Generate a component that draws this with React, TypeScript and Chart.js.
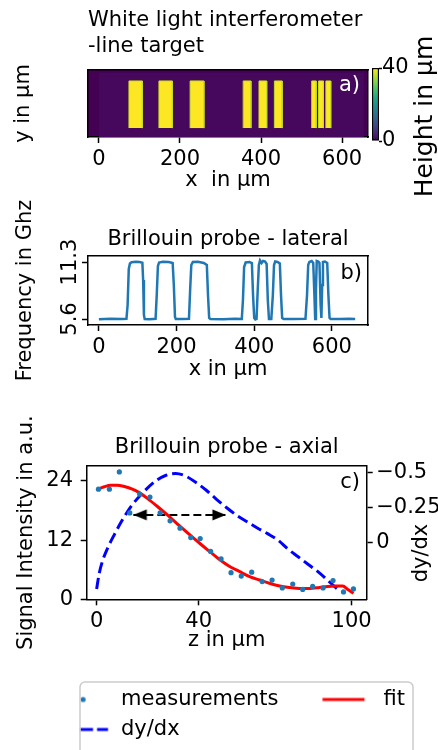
import React, { useEffect, useRef } from 'react';
import { Chart, registerables } from 'chart.js';

Chart.register(...registerables);
Chart.defaults.font.family = '"DejaVu Sans", sans-serif';
Chart.defaults.font.size = 21;
Chart.defaults.color = '#000';

// ---------------- a) white light interferometer – line target ----------------
const mapXTicks = [0, 200, 400, 600];
const mapXMin = -27;
const mapXMax = 664;
const mapYMin = 0;
const mapYMax = 165;
const stripeStarts = [74, 148, 225, 356, 395, 433, 525, 542, 560];
const stripeEnds = [107, 181, 259, 375, 414, 452, 536, 554, 572];
const stripeBottom = 22;
const stripeTop = 138;
const substrateX = [0, 654];
const substrateTop = 158;
const heightTicks = [0, 40];
const heightMin = 0;
const heightMax = 40;
const viridis = ['#440154', '#482475', '#414487', '#355f8d', '#2a788e', '#21918c', '#22a884', '#44bf70', '#7ad151', '#bddf26', '#fde725'];

// ---------------- b) Brillouin probe – lateral ----------------
const latX = [0, 30, 60, 71, 74, 77, 80, 84, 95, 105, 112, 114, 116, 118, 130, 146, 149, 152, 155, 165, 180, 190, 193, 196, 198, 215, 232, 235, 238, 242, 255, 270, 278, 281, 284, 287, 320, 350, 368, 371, 374, 378, 388, 394, 397, 400, 403, 406, 409, 412, 415, 419, 423, 428, 432, 435, 438, 444, 448, 451, 454, 460, 466, 469, 472, 476, 500, 532, 536, 539, 542, 548, 552, 555, 557, 559, 561, 565, 568, 571, 573, 575, 577, 582, 588, 591, 594, 597, 620, 645, 660];
const latF = [5.58, 5.62, 5.6, 5.62, 7.0, 10.6, 11.15, 11.28, 11.32, 11.3, 11.22, 9.5, 6.0, 5.6, 5.58, 5.62, 8.0, 10.9, 11.25, 11.33, 11.3, 11.2, 9.0, 5.8, 5.6, 5.6, 5.62, 8.5, 11.0, 11.3, 11.32, 11.2, 11.0, 8.0, 5.7, 5.6, 5.58, 5.62, 5.6, 7.5, 10.8, 11.25, 11.3, 11.2, 8.0, 5.7, 5.55, 5.6, 8.5, 11.0, 11.45, 11.2, 11.4, 11.35, 11.1, 7.5, 5.6, 5.6, 8.0, 11.0, 11.35, 11.3, 11.15, 8.0, 5.7, 5.6, 5.6, 5.62, 8.0, 11.0, 11.3, 11.4, 11.2, 8.0, 5.6, 8.5, 11.4, 11.35, 11.2, 7.0, 5.7, 9.0, 11.3, 11.35, 11.2, 8.0, 5.7, 5.6, 5.6, 5.62, 5.6];
const latXTicks = [0, 200, 400, 600];
const latXMin = -28;
const latXMax = 693;
const latFTicks = [5.6, 11.3];
const latFMin = 5.0;
const latFMax = 11.9;

// ---------------- c) Brillouin probe – axial ----------------
const measZ = [0.7, 5.0, 8.9, 13.0, 16.9, 20.9, 24.9, 28.8, 32.7, 36.9, 40.6, 44.7, 48.8, 52.7, 56.7, 60.8, 64.9, 68.8, 72.8, 76.9, 80.8, 84.7, 88.8, 92.7, 96.8, 100.7];
const measI = [22.3, 22.3, 25.8, 17.5, 21.3, 20.7, 17.5, 15.9, 14.4, 12.5, 12.3, 9.7, 8.2, 5.4, 4.7, 5.5, 3.6, 3.9, 2.3, 3.1, 2.0, 2.6, 2.3, 3.8, 1.5, 2.1];
const fitZ = [0.4, 3, 5.5, 8, 10.5, 14, 17, 20, 23.6, 27.5, 31.4, 36, 40.5, 44.5, 48.3, 52, 56.1, 60, 63.9, 68, 71.8, 75.7, 79.6, 83.5, 87.4, 90.5, 93.5, 96.5, 98.5, 100.7];
const fitI = [22.3, 22.8, 23.1, 23.1, 22.9, 22.3, 21.5, 20.4, 18.9, 17.2, 15.4, 13.3, 11.3, 9.6, 8.0, 6.7, 5.6, 4.6, 3.9, 3.2, 2.7, 2.4, 2.2, 2.2, 2.4, 2.6, 2.7, 2.7, 2.0, 1.2];
const derivZ = [0, 1, 2.5, 4.5, 7, 10, 13.5, 18, 23, 27, 31, 35, 39, 43, 47, 51, 55, 59, 63, 67, 71, 75, 79, 83, 87, 91, 95.5];
const derivV = [0.33, 0.22, 0.12, 0.03, -0.06, -0.16, -0.26, -0.355, -0.44, -0.48, -0.495, -0.475, -0.43, -0.375, -0.31, -0.25, -0.195, -0.15, -0.105, -0.065, -0.02, 0.045, 0.1, 0.155, 0.21, 0.275, 0.35];
const arrowZ = [14.4, 50.7];
const arrowI = [17.1, 17.1];
const axZTicks = [0, 40, 100];
const axZMin = -3.9;
const axZMax = 105.9;
const axITicks = [0, 12, 24];
const axIMin = 0;
const axIMax = 27;
const derivTicks = [-0.5, -0.25, 0];
const derivMin = -0.548;
const derivMax = 0.404;

// ---------------- helpers ----------------
const fmtMinus = (v: number) => (v < 0 ? '\u2212' + String(Math.abs(v)) : String(v));

const extraText = {
  id: 'extraText',
  afterDraw(chart: any, _a: any, opts: any) {
    const { ctx, chartArea: ca } = chart;
    (opts.items || []).forEach((t: any) => {
      const ax = t.ax === 'right' ? ca.right : ca.left;
      const ay = t.ay === 'bottom' ? ca.bottom : t.ay === 'middle' ? (ca.top + ca.bottom) / 2 : ca.top;
      ctx.save();
      ctx.font = `${t.size || 21}px "DejaVu Sans"`;
      ctx.fillStyle = t.color || '#000';
      ctx.textAlign = t.align || 'left';
      ctx.textBaseline = t.baseline || 'alphabetic';
      ctx.translate(ax + (t.dx || 0), ay + (t.dy || 0));
      if (t.rotate) ctx.rotate(t.rotate);
      ctx.fillText(t.text, 0, 0);
      ctx.restore();
    });
  },
};

const areaBg = {
  id: 'areaBg',
  beforeDraw(chart: any, _a: any, opts: any) {
    if (!opts.color) return;
    const { ctx, chartArea: ca } = chart;
    ctx.save();
    ctx.fillStyle = opts.color;
    ctx.fillRect(ca.left, ca.top, ca.width, ca.height);
    ctx.restore();
  },
};

const legendFrame = {
  id: 'legendFrame',
  afterDraw(chart: any, _a: any, opts: any) {
    const lg = chart.legend;
    if (!lg || !opts.width) return;
    const { ctx } = chart;
    const x = lg.left + opts.dx;
    const y = lg.top + opts.dy;
    const w = opts.width;
    const h = opts.height;
    const r = 5;
    ctx.save();
    ctx.strokeStyle = '#cccccc';
    ctx.lineWidth = 1.5;
    ctx.beginPath();
    ctx.moveTo(x + r, y);
    ctx.lineTo(x + w - r, y);
    ctx.arcTo(x + w, y, x + w, y + r, r);
    ctx.lineTo(x + w, y + h);
    ctx.moveTo(x, y + h);
    ctx.lineTo(x, y + r);
    ctx.arcTo(x, y, x + r, y, r);
    ctx.stroke();
    ctx.restore();
  },
};

const spine = (position: string, size: number) => ({
  type: 'linear',
  position,
  display: true,
  z: 1,
  ticks: { display: false },
  grid: { display: false },
  border: { display: true, color: '#000', width: 1.5 },
  afterFit: (s: any) => {
    if (position === 'top' || position === 'bottom') s.height = size;
    else s.width = size;
  },
});

const tickGrid = { display: true, drawOnChartArea: false, drawTicks: true, tickLength: 6, color: '#000', tickWidth: 1.5 };
const setTicks = (vals: number[]) => (s: any) => {
  s.ticks = vals.map((v) => ({ value: v }));
};

function makeCanvas(w: number, h: number, draw: (g: CanvasRenderingContext2D) => void) {
  const c = document.createElement('canvas');
  c.width = w;
  c.height = h;
  const g = c.getContext('2d') as CanvasRenderingContext2D;
  draw(g);
  return c;
}

export default function App() {
  const aRef = useRef<HTMLCanvasElement>(null);
  const cbRef = useRef<HTMLCanvasElement>(null);
  const bRef = useRef<HTMLCanvasElement>(null);
  const cRef = useRef<HTMLCanvasElement>(null);

  useEffect(() => {
    const charts: Chart[] = [];

    // ---------- panel a ----------
    const stripes: any[] = [];
    stripeStarts.forEach((s, i) => {
      stripes.push({ x: s, y: stripeBottom }, { x: s, y: stripeTop }, { x: stripeEnds[i], y: stripeTop }, { x: stripeEnds[i], y: stripeBottom }, { x: stripeEnds[i], y: null });
    });
    charts.push(
      new Chart(aRef.current as HTMLCanvasElement, {
        type: 'line',
        data: {
          datasets: [
            { data: stripes, borderColor: '#c9e020', borderWidth: 1, backgroundColor: '#fde725', fill: { value: stripeBottom }, pointRadius: 0, tension: 0, spanGaps: false },
            { data: substrateX.map((x) => ({ x, y: substrateTop })), borderWidth: 0, backgroundColor: '#46085c', fill: 'start', pointRadius: 0 },
          ],
        } as any,
        options: {
          responsive: false,
          animation: false,
          devicePixelRatio: 1,
          layout: { padding: 0, autoPadding: false },
          plugins: {
            legend: { display: false },
            tooltip: { enabled: false },
            title: { display: true, text: ['White light interferometer', '-line target'], align: 'start', fullSize: false, font: { size: 21, weight: 'normal' }, padding: { top: 8.4, bottom: 11.2 }, color: '#000' },
            extraText: { items: [{ text: 'a)', ax: 'right', ay: 'top', dx: -8, dy: 21, align: 'right', color: '#fff' }] },
            areaBg: { color: '#440154' },
          } as any,
          scales: {
            x: {
              type: 'linear', position: 'bottom', min: mapXMin, max: mapXMax, z: 1,
              afterBuildTicks: setTicks(mapXTicks), afterFit: (s: any) => { s.height = 63; },
              grid: tickGrid, border: { display: true, color: '#000', width: 1.5 },
              ticks: { padding: 4, autoSkip: false, maxRotation: 0 },
              title: { display: true, text: 'x  in \u00b5m', padding: { top: 0, bottom: 6.4 } },
            },
            xTop: spine('top', 0),
            y: {
              type: 'linear', position: 'left', min: mapYMin, max: mapYMax, z: 1,
              afterFit: (s: any) => { s.width = 88; },
              ticks: { display: false }, grid: { display: false },
              border: { display: true, color: '#000', width: 1.5 },
              title: { display: true, text: 'y in \u00b5m', padding: { top: 11.4, bottom: 0 } },
            },
            yRight: spine('right', 70),
          } as any,
        },
        plugins: [extraText, areaBg],
      })
    );

    // ---------- colour bar ----------
    charts.push(
      new Chart(cbRef.current as HTMLCanvasElement, {
        type: 'bar',
        data: {
          labels: ['height'],
          datasets: [
            {
              data: [[heightMin, heightMax]],
              backgroundColor: (c: any) => {
                const ca = c.chart.chartArea;
                if (!ca) return viridis[0];
                const g = c.chart.ctx.createLinearGradient(0, ca.bottom, 0, ca.top);
                viridis.forEach((col, i) => g.addColorStop(i / (viridis.length - 1), col));
                return g;
              },
              borderColor: '#000', borderWidth: 1.5, borderSkipped: false, barPercentage: 1, categoryPercentage: 1,
            },
          ],
        } as any,
        options: {
          responsive: false, animation: false, devicePixelRatio: 1,
          layout: { padding: { left: 72, top: 68, bottom: 59, right: 0 }, autoPadding: false },
          plugins: {
            legend: { display: false }, tooltip: { enabled: false },
            extraText: { items: [{ text: 'Height in \u00b5m', ax: 'right', ay: 'middle', dx: 46.4, dy: 12, size: 25, align: 'center', baseline: 'middle', rotate: -Math.PI / 2 }] },
          } as any,
          scales: {
            x: { type: 'category', display: false },
            y: {
              type: 'linear', position: 'right', min: heightMin, max: heightMax,
              afterBuildTicks: setTicks(heightTicks), afterFit: (s: any) => { s.width = 59; },
              grid: { display: true, drawOnChartArea: false, drawTicks: true, tickLength: 3, color: '#000', tickWidth: 1.5 },
              border: { display: false },
              ticks: { padding: 0, autoSkip: false },
            },
          } as any,
        },
        plugins: [extraText],
      })
    );

    // ---------- panel b ----------
    charts.push(
      new Chart(bRef.current as HTMLCanvasElement, {
        type: 'line',
        data: {
          datasets: [
            { data: latX.map((x, i) => ({ x, y: latF[i] })), borderColor: '#1f77b4', borderWidth: 2.5, pointRadius: 0, tension: 0, fill: false },
          ],
        } as any,
        options: {
          responsive: false, animation: false, devicePixelRatio: 1,
          layout: { padding: 0, autoPadding: false },
          plugins: {
            legend: { display: false }, tooltip: { enabled: false },
            title: { display: true, text: 'Brillouin probe - lateral', align: 'center', fullSize: false, font: { size: 21, weight: 'normal' }, padding: { top: 27.1, bottom: 3.7 }, color: '#000' },
            extraText: { items: [{ text: 'b)', ax: 'right', ay: 'top', dx: -6, dy: 23, align: 'right' }] },
          } as any,
          scales: {
            x: {
              type: 'linear', position: 'bottom', min: latXMin, max: latXMax,
              afterBuildTicks: setTicks(latXTicks), afterFit: (s: any) => { s.height = 65; },
              grid: tickGrid, border: { display: true, color: '#000', width: 1.5 },
              ticks: { padding: 4, autoSkip: false, maxRotation: 0 },
              title: { display: true, text: 'x in \u00b5m', padding: { top: 0, bottom: 8 } },
            },
            xTop: spine('top', 0),
            y: {
              type: 'linear', position: 'left', min: latFMin, max: latFMax,
              afterBuildTicks: setTicks(latFTicks), afterFit: (s: any) => { s.width = 88; },
              grid: tickGrid, border: { display: true, color: '#000', width: 1.5 },
              ticks: { padding: -12.4, autoSkip: false, minRotation: 90, maxRotation: 90, crossAlign: 'center', callback: (v: any) => String(v) },
              title: { display: true, text: 'Frequency in Ghz', padding: { top: 13.1, bottom: 0 } },
            },
            yRight: spine('right', 70),
          } as any,
        },
        plugins: [extraText],
      })
    );

    // ---------- panel c ----------
    const dotHandle = makeCanvas(86, 14, (g) => {
      g.fillStyle = '#1f77b4';
      g.beginPath();
      g.arc(58.3, 7, 2.6, 0, Math.PI * 2);
      g.fill();
    });
    const fitHandle = makeCanvas(86, 14, (g) => {
      g.strokeStyle = '#ff0000';
      g.lineWidth = 3;
      g.beginPath();
      g.moveTo(35.3, 7);
      g.lineTo(77.3, 7);
      g.stroke();
    });
    const derivHandle = makeCanvas(86, 14, (g) => {
      g.strokeStyle = '#0000ff';
      g.lineWidth = 3;
      g.beginPath();
      g.moveTo(55.3, 7);
      g.lineTo(68.3, 7);
      g.moveTo(72.3, 7);
      g.lineTo(83.3, 7);
      g.stroke();
    });
    const arrowHead = makeCanvas(30, 14, (g) => {
      g.fillStyle = '#000';
      g.beginPath();
      g.moveTo(15, 7);
      g.lineTo(1.5, 1.5);
      g.lineTo(1.5, 12.5);
      g.closePath();
      g.fill();
    });

    charts.push(
      new Chart(cRef.current as HTMLCanvasElement, {
        type: 'line',
        data: {
          datasets: [
            { label: 'measurements', data: measZ.map((x, i) => ({ x, y: measI[i] })), showLine: false, pointRadius: 2.6, pointBackgroundColor: '#1f77b4', pointBorderWidth: 0, yAxisID: 'y' },
            { label: 'fit', data: fitZ.map((x, i) => ({ x, y: fitI[i] })), borderColor: '#ff0000', borderWidth: 3, pointRadius: 0, tension: 0.4, cubicInterpolationMode: 'monotone', yAxisID: 'y' },
            { label: 'dy/dx', data: derivZ.map((x, i) => ({ x, y: derivV[i] })), borderColor: '#0000ff', borderWidth: 3, borderDash: [11, 5], pointRadius: 0, tension: 0.4, cubicInterpolationMode: 'monotone', yAxisID: 'y2' },
            { label: 'arrow', data: arrowZ.map((x, i) => ({ x, y: arrowI[i] })), borderColor: '#000', borderWidth: 2, borderDash: [8, 4], pointStyle: arrowHead, pointRotation: [180, 0], pointRadius: 5, yAxisID: 'y' },
          ],
        } as any,
        options: {
          responsive: false, animation: false, devicePixelRatio: 1,
          layout: { padding: { left: 15.9, right: 0, top: 0, bottom: 0 }, autoPadding: false },
          plugins: {
            tooltip: { enabled: false },
            title: { display: true, text: 'Brillouin probe - axial', align: 'center', fullSize: false, font: { size: 21, weight: 'normal' }, padding: { top: 35.1, bottom: 5.7 }, color: '#000' },
            legend: {
              display: true, position: 'bottom', align: 'start',
              labels: {
                usePointStyle: true, pointStyleWidth: 85.6, padding: 9, font: { size: 21 }, color: '#000',
                generateLabels: () => [
                  { text: 'measurements', pointStyle: dotHandle, fillStyle: 'rgba(0,0,0,0)', strokeStyle: 'rgba(0,0,0,0)', lineWidth: 0, hidden: false, datasetIndex: 0, fontColor: '#000' },
                  { text: 'fit', pointStyle: fitHandle, fillStyle: 'rgba(0,0,0,0)', strokeStyle: 'rgba(0,0,0,0)', lineWidth: 0, hidden: false, datasetIndex: 1, fontColor: '#000' },
                  { text: 'dy/dx', pointStyle: derivHandle, fillStyle: 'rgba(0,0,0,0)', strokeStyle: 'rgba(0,0,0,0)', lineWidth: 0, hidden: false, datasetIndex: 2, fontColor: '#000' },
                ],
              },
            },
            legendFrame: { dx: 64.1, dy: 2, width: 333, height: 90 },
            extraText: {
              items: [
                { text: 'c)', ax: 'right', ay: 'top', dx: -6.7, dy: 22.3, align: 'right' },
                { text: 'dy/dx', ax: 'right', ay: 'top', dx: 55.3, dy: 87, align: 'center', baseline: 'middle', rotate: -Math.PI / 2 },
              ],
            },
          } as any,
          scales: {
            x: {
              type: 'linear', position: 'bottom', min: axZMin, max: axZMax,
              afterBuildTicks: setTicks(axZTicks), afterFit: (s: any) => { s.height = 80.7; },
              grid: tickGrid, border: { display: true, color: '#000', width: 1.5 },
              ticks: { padding: 4, autoSkip: false, maxRotation: 0 },
              title: { display: true, text: 'z in \u00b5m', padding: { top: 0, bottom: 26.4 } },
            },
            xTop: spine('top', 0),
            y: {
              type: 'linear', position: 'left', min: axIMin, max: axIMax,
              afterBuildTicks: setTicks(axITicks), afterFit: (s: any) => { s.width = 70.8; },
              grid: tickGrid, border: { display: true, color: '#000', width: 1.5 },
              ticks: { padding: 7.7, autoSkip: false },
              title: { display: true, text: 'Signal Intensity in a.u.', padding: { top: -1.6, bottom: 0 } },
            },
            y2: {
              type: 'linear', position: 'right', min: derivMin, max: derivMax, reverse: true,
              afterBuildTicks: setTicks(derivTicks), afterFit: (s: any) => { s.width = 71.3; },
              grid: tickGrid, border: { display: true, color: '#000', width: 1.5 },
              ticks: { padding: 3.5, autoSkip: false, callback: (v: any) => fmtMinus(Number(v)) },
            },
          } as any,
        },
        plugins: [extraText, legendFrame],
      })
    );

    return () => charts.forEach((c) => c.destroy());
  }, []);

  const abs = (l: number, t: number, w: number, h: number): React.CSSProperties => ({ position: 'absolute', left: l, top: t, width: w, height: h });

  return (
    <div style={{ position: 'absolute', left: 0, top: 0, width: 438, height: 750, background: '#fff', overflow: 'hidden' }}>
      <canvas ref={aRef} width={438} height={200} style={abs(0, 0, 438, 200)} />
      <canvas ref={cbRef} width={138} height={200} style={abs(300, 0, 138, 200)} />
      <canvas ref={bRef} width={438} height={190} style={abs(0, 200, 438, 190)} />
      <canvas ref={cRef} width={438} height={350} style={abs(0, 400, 438, 350)} />
    </div>
  );
}
